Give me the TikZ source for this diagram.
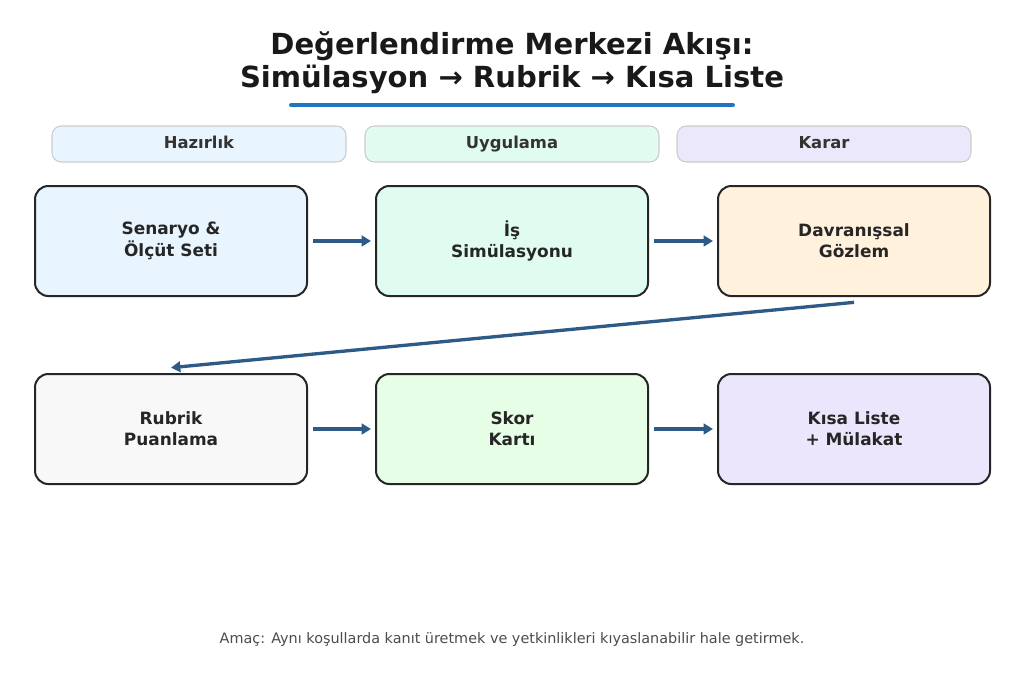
\documentclass[tikz,border=0pt]{standalone}
\usepackage{fontspec}
\setmainfont{DejaVu Sans}
\usetikzlibrary{arrows.meta}
\definecolor{c1}{HTML}{E8F4FE}\definecolor{c2}{HTML}{E0FCF1}\definecolor{c3}{HTML}{FFF1DC}
\definecolor{c4}{HTML}{F8F8F8}\definecolor{c5}{HTML}{E6FDE6}\definecolor{c6}{HTML}{ECE6FD}
\definecolor{h3}{HTML}{ECE8FB}\definecolor{arr}{HTML}{2E5A87}\definecolor{ul}{HTML}{1F77C4}
\tikzset{
 box/.style={draw=black!85,line width=1.5pt,rounded corners=10pt,minimum width=272*0.75pt,minimum height=110*0.75pt,align=center,font=\bfseries\fontsize{12.7}{16}\selectfont,text=black!85},
 pill/.style={draw=black!20,line width=0.8pt,rounded corners=7pt,minimum width=294*0.75pt,minimum height=36*0.75pt,text height=9pt,text depth=2.5pt,font=\bfseries\fontsize{12.3}{14}\selectfont,text=black!80},
 flow/.style={draw=arr,line width=2.5pt,-{Triangle[length=7pt,width=8pt]}}
}
\begin{document}
\begin{tikzpicture}[x=0.75pt,y=-0.75pt]
\useasboundingbox (0,0) rectangle (1024,683);
\node[font=\bfseries\fontsize{21.8}{25}\selectfont,align=center,text=black!90] (t) at (512,63) {Değerlendirme Merkezi Akışı:\\Simülasyon → Rubrik → Kısa Liste};
\draw[ul,line width=3pt,line cap=round] (291,105) -- (733,105);
\node[pill,fill=c1] (p1) at (199,144) {Hazırlık};
\node[pill,fill=c2] (p2) at (512,144) {Uygulama};
\node[pill,fill=h3] (p3) at (824,144) {Karar};
\node[box,fill=c1] (a) at (171,241) {Senaryo \&\\Ölçüt Seti};
\node[box,fill=c2] (b) at (512,241) {İş\\Simülasyonu};
\node[box,fill=c3] (c) at (854,241) {Davranışsal\\Gözlem};
\node[box,fill=c4] (d) at (171,429) {Rubrik\\Puanlama};
\node[box,fill=c5] (e) at (512,429) {Skor\\Kartı};
\node[box,fill=c6] (f) at (854,429) {Kısa Liste\\+ Mülakat};
\draw[flow] ([xshift=4pt]a.east) -- ([xshift=-3pt]b.west);
\draw[flow] ([xshift=4pt]b.east) -- ([xshift=-3pt]c.west);
\draw[flow] ([xshift=4pt]d.east) -- ([xshift=-3pt]e.west);
\draw[flow] ([xshift=4pt]e.east) -- ([xshift=-3pt]f.west);
\draw[flow] ([yshift=-4pt]c.south) -- ([yshift=4pt]d.north);
\node[font=\fontsize{10.8}{13}\selectfont,text=black!70] (n) at (512,640) {Amaç: Aynı koşullarda kanıt üretmek ve yetkinlikleri kıyaslanabilir hale getirmek.};
\end{tikzpicture}
\end{document}
